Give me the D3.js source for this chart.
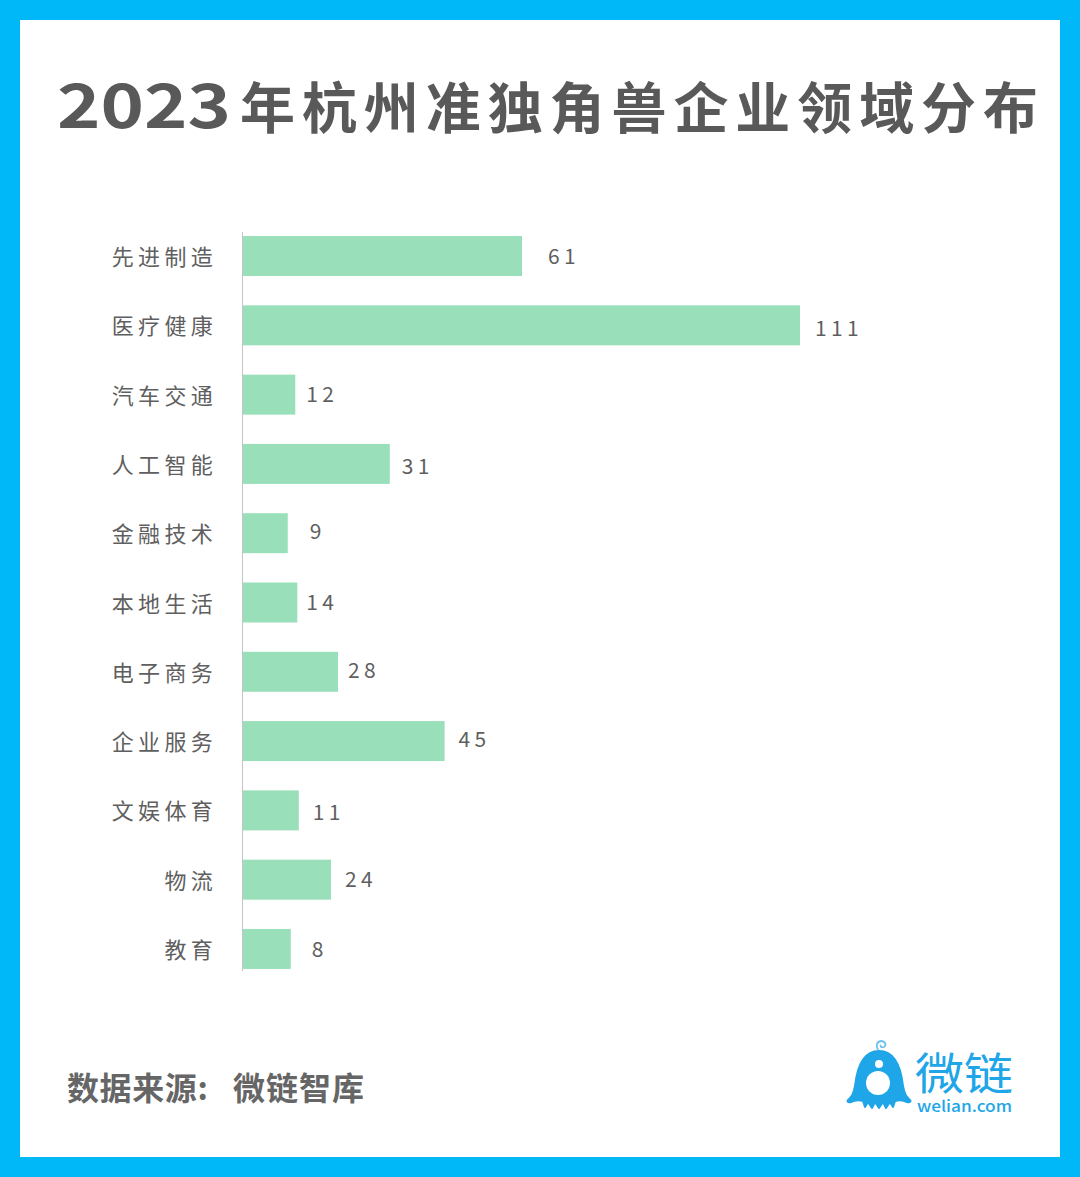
<!DOCTYPE html>
<html>
<head>
<meta charset="utf-8">
<script src="https://cdn.jsdelivr.net/npm/d3@7"></script>
<style>
  html, body { margin: 0; padding: 0; background: #fff; }
  svg { display: block; }
  text { font-family: "Noto Sans CJK SC", "Noto Sans", sans-serif; }
</style>
</head>
<body>
<svg id="chart"></svg>
<script>
// categories, top to bottom
var categories = ['先进制造', '医疗健康', '汽车交通', '人工智能', '金融技术', '本地生活', '电子商务', '企业服务', '文娱体育', '物流', '教育'];
// the printed labels
var printedValues = [61, 111, 12, 31, 9, 14, 28, 45, 11, 24, 8];
// the bars as drawn: in the picture they are not quite in proportion to their labels,
// so these are read off the bar lengths, in units where the 111 bar is 111
var barValues = [55.7, 111, 10.6, 29.4, 9.1, 11, 19.1, 40.3, 11.3, 17.7, 9.7];
var labelNudge = [[26, 0], [15, 3], [11, 0], [12, 3], [22, -2], [9, 0], [10, -1], [14, -2], [14, 2], [14, 0], [21, 0]];

var width = 1080, height = 1177;
var svg = d3.select('#chart').attr('width', width).attr('height', height);
var textColor = '#5f5f5f', titleColor = '#595959', frameColor = '#00b7f8', barColor = '#99dfb9';

svg.append('rect').attr('width', width).attr('height', height).attr('fill', frameColor);
svg.append('rect').attr('x', 20).attr('y', 20).attr('width', 1040).attr('height', 1137).attr('fill', '#fff');

// title: the year is stretched, the source font has very wide digits
svg.append('text')
  .attr('x', 57).attr('y', 128)
  .attr('font-size', 61).attr('font-weight', 700)
  .attr('textLength', 174).attr('lengthAdjust', 'spacingAndGlyphs')
  .attr('fill', titleColor)
  .text('2023');
svg.append('text')
  .attr('x', 240).attr('y', 128)
  .attr('font-size', 55).attr('font-weight', 700)
  .attr('textLength', 798)
  .attr('fill', titleColor)
  .text('年杭州准独角兽企业领域分布');

var x = d3.scaleLinear().domain([0, 111]).range([242, 800]);
var y = d3.scaleBand().domain(categories).range([221.4, 983.6]).paddingInner(0.423).paddingOuter(0.2115);

svg.selectAll('.bar')
  .data(categories)
  .enter()
  .append('rect')
  .attr('class', 'bar')
  .attr('x', x(0))
  .attr('y', function (d) { return y(d); })
  .attr('width', function (d, i) { return x(barValues[i]) - x(0); })
  .attr('height', y.bandwidth())
  .attr('fill', barColor);

// axis with the category names
var axis = svg.append('g')
  .attr('transform', 'translate(' + x(0) + ',0)')
  .call(d3.axisLeft(y).tickSize(0).tickPadding(25));
axis.select('.domain').remove();
axis.append('line')
  .attr('y1', 232).attr('y2', 971)
  .attr('stroke', '#c4c4c4').attr('stroke-width', 1)
  .attr('shape-rendering', 'crispEdges');
axis.selectAll('.tick text')
  .attr('font-family', '"Noto Sans CJK SC"')
  .attr('font-size', 22)
  .attr('letter-spacing', 4.3)
  .attr('dy', '0.41em')
  .attr('fill', textColor);

// value labels
svg.selectAll('.val')
  .data(categories)
  .enter()
  .append('text')
  .attr('class', 'val')
  .attr('x', function (d, i) { return x(barValues[i]) + labelNudge[i][0]; })
  .attr('y', function (d, i) { return y(d) + y.bandwidth() / 2 + labelNudge[i][1]; })
  .attr('dy', '0.36em')
  .attr('font-size', 21)
  .attr('letter-spacing', 4.3)
  .attr('fill', textColor)
  .text(function (d, i) { return printedValues[i]; });

// source line, two pieces because of the wide gap after the colon
svg.append('text')
  .attr('x', 67).attr('y', 1100)
  .attr('font-size', 32).attr('font-weight', 700)
  .attr('letter-spacing', 0.6)
  .attr('fill', '#666666')
  .text('数据来源:');
svg.append('text')
  .attr('x', 233).attr('y', 1100)
  .attr('font-size', 32).attr('font-weight', 700)
  .attr('letter-spacing', 1)
  .attr('fill', '#666666')
  .text('微链智库');

// logo
var logoColor = '#1ea6e8';
var logo = svg.append('g');
logo.append('path')
  .attr('d', 'M879,1051 C863,1051 857,1068 855,1086 C854,1092 853,1096 849,1099 C846,1101 848,1103 851,1102 C855,1100 859,1100 863,1101 L865,1107 L868,1102 L872,1108 L875,1102 L879,1108 L883,1102 L886,1108 L890,1102 L893,1107 L895,1101 C899,1100 903,1100 907,1102 C910,1103 912,1101 909,1099 C905,1096 904,1092 903,1086 C901,1068 895,1051 879,1051 Z')
  .attr('fill', logoColor)
  .attr('stroke', logoColor).attr('stroke-width', 2).attr('stroke-linejoin', 'round');
logo.append('circle').attr('cx', 878).attr('cy', 1083).attr('r', 12).attr('fill', '#fff');
logo.append('circle').attr('cx', 879).attr('cy', 1064).attr('r', 4).attr('fill', '#fff');
logo.append('path')
  .attr('d', 'M878,1050 C876,1046 876,1042 881,1041 C885,1041 887,1045 884,1047 C881,1048 880,1046 881,1045')
  .attr('fill', 'none').attr('stroke', '#6cc4ee').attr('stroke-width', 1.8);
logo.append('text')
  .attr('x', 915).attr('y', 1090)
  .attr('font-size', 44).attr('font-weight', 400)
  .attr('font-family', '"Noto Sans CJK SC"')
  .attr('textLength', 98).attr('lengthAdjust', 'spacingAndGlyphs')
  .attr('fill', logoColor)
  .text('微链');
logo.append('text')
  .attr('x', 917).attr('y', 1112)
  .attr('font-size', 15).attr('font-weight', 500)
  .attr('font-family', 'Inter')
  .attr('textLength', 95).attr('lengthAdjust', 'spacingAndGlyphs')
  .attr('fill', logoColor)
  .text('welian.com');
</script>
</body>
</html>
